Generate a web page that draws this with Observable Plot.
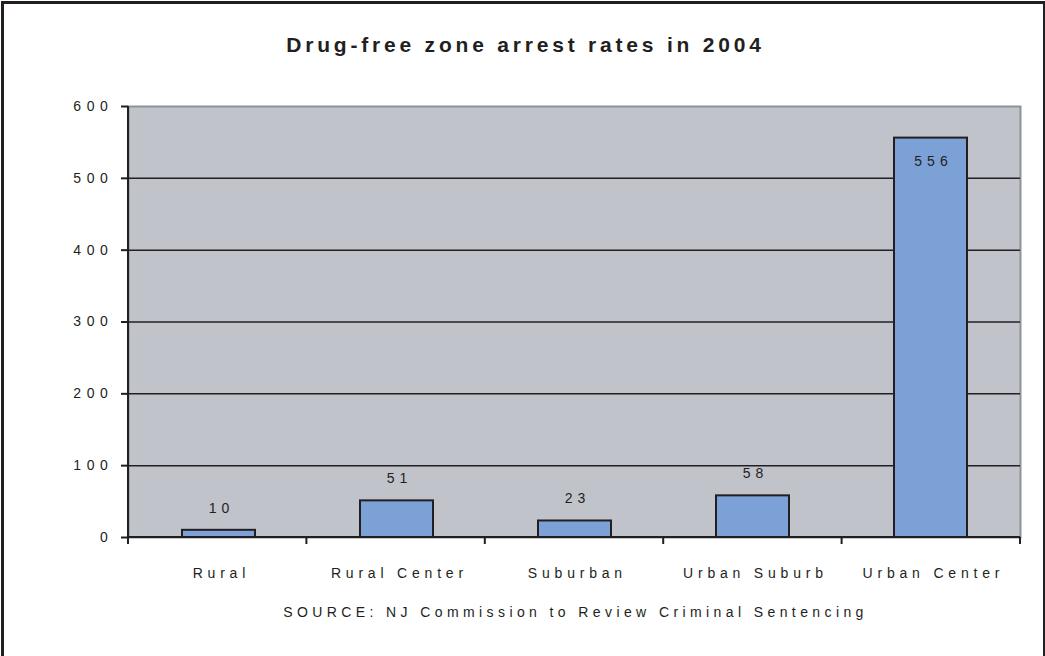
<!DOCTYPE html>
<html>
<head>
<meta charset="utf-8">
<script src="https://cdn.jsdelivr.net/npm/d3@7"></script>
<script src="https://cdn.jsdelivr.net/npm/@observablehq/plot@0.6"></script>
<style>
  html, body { margin: 0; padding: 0; background: #fff; }
  #page { position: relative; width: 1045px; height: 656px; overflow: hidden; background: #fff;
          font-family: "Liberation Sans", Arial, sans-serif; color: #231f20; }
  #frame { position: absolute; left: 1px; top: 1px; width: 1039px; height: 720px;
           border: 3px solid #231f20; box-sizing: content-box; }
  #title { position: absolute; left: 3px; top: 34px; width: 1045px; text-align: center;
           font-weight: bold; font-size: 21px; line-height: 21px; letter-spacing: 3.8px; white-space: nowrap; }
  #caption { position: absolute; left: 53px; top: 605px; width: 1045px; text-align: center;
             font-size: 14px; line-height: 14px; letter-spacing: 4.4px; white-space: nowrap; }
  #chart { position: absolute; left: 0; top: 70px; }
  #chart svg text { letter-spacing: 4.8px; }
  #chart g[aria-label="y-axis tick label"] text { letter-spacing: 5.6px; }
  #chart g[aria-label="text"] text { letter-spacing: 5px; }
</style>
</head>
<body>
<div id="page">
  <div id="frame"></div>
  <div id="title">Drug-free zone arrest rates in 2004</div>
  <div id="chart"></div>
  <div id="caption">SOURCE: NJ Commission to Review Criminal Sentencing</div>
</div>
<script>
const categories = ["Rural", "Rural Center", "Suburban", "Urban Suburb", "Urban Center"];
const values = [10, 51, 23, 58, 556];
const yTicks = [0, 100, 200, 300, 400, 500, 600];
const gridValues = [100, 200, 300, 400, 500];

const data = categories.map((c, i) => ({category: c, value: values[i]}));
const ink = "#231f20";

// baseline, left axis line and tick marks at the category boundaries
const edgeMarks = Plot.ruleY([0], {
  render(index, scales, channels, dims) {
    const left = dims.marginLeft;
    const right = dims.width - dims.marginRight;
    const y0 = scales.y(0);
    const yTop = scales.y(yTicks[yTicks.length - 1]);
    const n = categories.length;
    const g = d3.create("svg:g").attr("stroke", ink).attr("stroke-width", 2).attr("fill", "none");
    g.append("line").attr("x1", left).attr("x2", right).attr("y1", y0).attr("y2", y0);
    g.append("line").attr("x1", left).attr("x2", left).attr("y1", yTop).attr("y2", y0 + 7);
    for (let i = 1; i <= n; i++) {
      const xb = left + (right - left) * i / n;
      g.append("line").attr("x1", xb).attr("x2", xb).attr("y1", y0).attr("y2", y0 + 7);
    }
    return g.node();
  }
});

const chart = Plot.plot({
  width: 1045,
  height: 525,
  marginLeft: 128,
  marginRight: 25,
  marginTop: 36,
  marginBottom: 58,
  style: {background: "transparent", fontFamily: "'Liberation Sans', Arial, sans-serif", fontSize: "14px", color: ink, overflow: "visible"},
  x: {domain: categories, paddingInner: 0.59, paddingOuter: 0.295, label: null},
  y: {domain: [0, 600], label: null},
  marks: [
    Plot.frame({fill: "#c0c3ca", stroke: "#8d9299", strokeWidth: 2}),
    Plot.ruleY(gridValues, {stroke: ink, strokeWidth: 1.5}),
    Plot.barY(data, {x: "category", y: "value", fill: "#7ca1d6", stroke: ink, strokeWidth: 2}),
    edgeMarks,
    Plot.axisY({ticks: yTicks, tickSize: 7, tickPadding: 8, strokeWidth: 2, label: null}),
    Plot.axisX({tickSize: 0, tickPadding: 31, dx: 2.4, label: null}),
    Plot.text(data.filter(d => d.value < 500), {x: "category", y: "value", text: d => String(d.value), dy: -22, dx: 2.5, fill: ink, fontSize: 14}),
    Plot.text(data.filter(d => d.value >= 500), {x: "category", y: "value", text: d => String(d.value), dy: 23, dx: 2.5, fill: ink, fontSize: 14})
  ]
});
document.getElementById("chart").appendChild(chart);
</script>
</body>
</html>
